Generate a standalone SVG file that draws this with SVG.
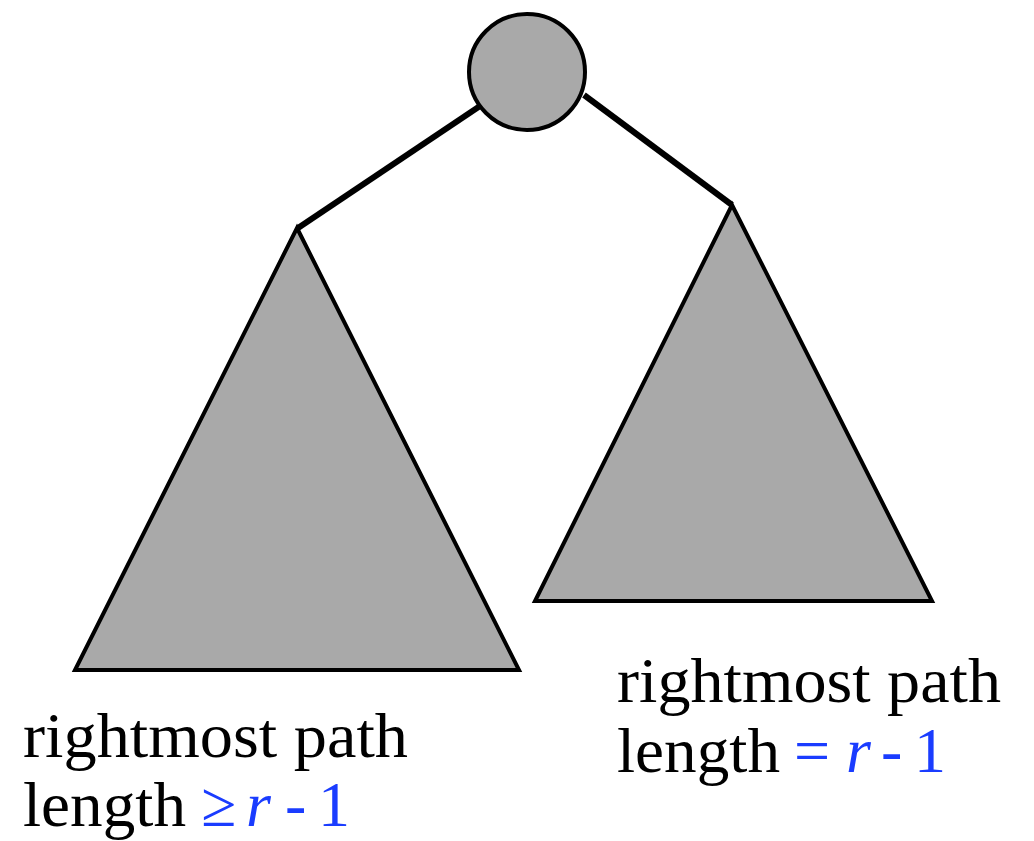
<svg xmlns="http://www.w3.org/2000/svg" width="1034" height="841" viewBox="0 0 1034 841">
<style>
.shape{fill:#a9a9a9;stroke:#000;stroke-width:4;stroke-linejoin:miter}
.edge{stroke:#000;stroke-width:6;fill:none}
.t{font-family:"Liberation Serif","DejaVu Serif",serif;font-size:64px;fill:#000}
.b{fill:#1a3cff}
.i{font-style:italic}
</style>
<rect width="1034" height="841" fill="#fff"/>
<g id="connectors">
<line class="edge" x1="480" y1="106" x2="298" y2="228"/>
<line class="edge" x1="584" y1="95" x2="732" y2="205"/>
</g>
<g id="root"><circle class="shape" cx="527" cy="72" r="58"/></g>
<g id="left-subtree"><polygon class="shape" points="297,228 519,670 75,670"/></g>
<g id="right-subtree"><polygon class="shape" points="732,205 932,601 535,601"/></g>
<g id="left-label">
<text class="t" x="23" y="757" textLength="385" lengthAdjust="spacingAndGlyphs">rightmost path</text>
<text class="t" x="23" y="826" textLength="163" lengthAdjust="spacingAndGlyphs">length</text>
<text class="t b" x="201" y="826">≥</text>
<text class="t b i" x="246" y="826">r</text>
<text class="t b" x="285" y="826">-</text>
<text class="t b" x="318" y="826">1</text>
</g>
<g id="right-label">
<text class="t" x="617" y="702" textLength="384" lengthAdjust="spacingAndGlyphs">rightmost path</text>
<text class="t" x="617" y="772" textLength="163" lengthAdjust="spacingAndGlyphs">length</text>
<text class="t b" x="794" y="772">=</text>
<text class="t b i" x="846" y="772">r</text>
<text class="t b" x="881" y="772">-</text>
<text class="t b" x="914" y="772">1</text>
</g>
</svg>
